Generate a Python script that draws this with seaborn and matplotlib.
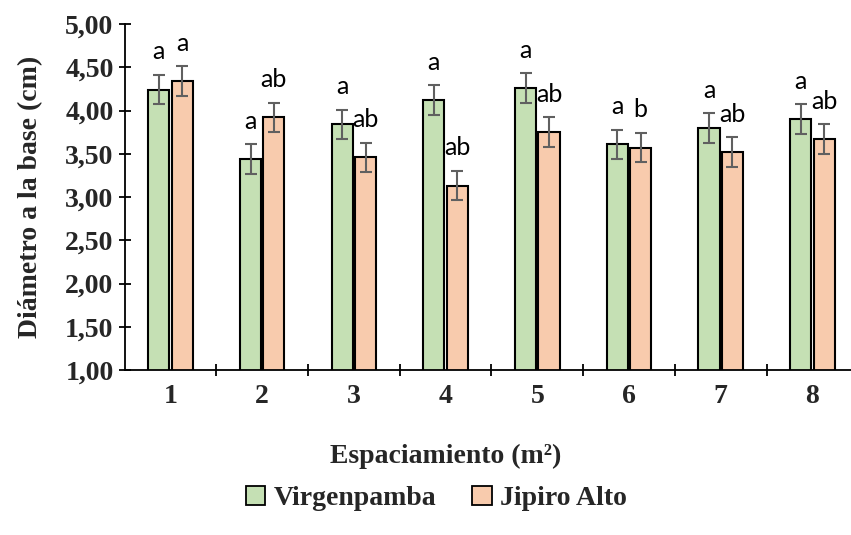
import pandas as pd
import numpy as np
import matplotlib
matplotlib.use('Agg')
import matplotlib.pyplot as plt
import seaborn as sns
from matplotlib.ticker import FuncFormatter, FixedLocator

# Datos
espaciamiento = ['1', '2', '3', '4', '5', '6', '7', '8']
virgenpamba = [4.24, 3.44, 3.84, 4.12, 4.26, 3.61, 3.80, 3.90]
jipiro_alto = [4.34, 3.92, 3.46, 3.13, 3.75, 3.57, 3.52, 3.67]
err_virgenpamba = [0.17, 0.17, 0.17, 0.17, 0.17, 0.17, 0.17, 0.17]
err_jipiro_alto = [0.17, 0.17, 0.17, 0.17, 0.17, 0.17, 0.17, 0.17]
letras_virgenpamba = ['a', 'a', 'a', 'a', 'a', 'a', 'a', 'a']
letras_jipiro_alto = ['a', 'ab', 'ab', 'ab', 'ab', 'b', 'ab', 'ab']
sitios = ['Virgenpamba', 'Jipiro Alto']

df = pd.DataFrame({
    'Espaciamiento': espaciamiento * 2,
    'Sitio': [sitios[0]] * 8 + [sitios[1]] * 8,
    'Diametro': virgenpamba + jipiro_alto,
    'Error': err_virgenpamba + err_jipiro_alto,
    'Letra': letras_virgenpamba + letras_jipiro_alto,
})

sns.set_theme(style='white')
plt.rcParams['font.family'] = ['Liberation Serif', 'DejaVu Serif']

fig = plt.figure(figsize=(8.51, 5.35), dpi=100)
ax = fig.add_axes([0.1465, 0.3084, 0.862, 0.6467])

colores = {'Virgenpamba': '#C5E0B4', 'Jipiro Alto': '#F8CBAD'}
sns.barplot(data=df, x='Espaciamiento', y='Diametro', hue='Sitio',
            palette=colores, saturation=1, width=0.51, gap=0.1,
            edgecolor='black', linewidth=1.5, errorbar=None, ax=ax)

# Barras de error y letras de significancia sobre cada barra
for cont, sitio in zip(ax.containers, sitios):
    sub = df[df['Sitio'] == sitio].reset_index(drop=True)
    for bar, (_, fila) in zip(cont, sub.iterrows()):
        xc = bar.get_x() + bar.get_width() / 2
        h = bar.get_y() + bar.get_height()
        ax.errorbar(xc, h, yerr=fila['Error'], color='#606060', lw=1.5,
                    capsize=4, capthick=1.5, zorder=5)
        ax.text(xc, h + fila['Error'] + 0.18, fila['Letra'],
                ha='center', va='baseline', fontsize=18,
                family=['Lato', 'DejaVu Sans'], color='black')

ax.set_ylim(1, 5)
ax.set_xlim(-0.5, 7.5)
ax.set_yticks(np.arange(1, 5.01, 0.5))
ax.yaxis.set_major_formatter(FuncFormatter(lambda v, p: f'{v:.2f}'.replace('.', ',')))

for s in ['top', 'right']:
    ax.spines[s].set_visible(False)
for s in ['left', 'bottom']:
    ax.spines[s].set_color('black')
    ax.spines[s].set_linewidth(1.3)

ax.tick_params(axis='y', direction='inout', length=8, width=1.3, color='black',
               labelsize=20, pad=4, left=True)
ax.tick_params(axis='x', which='major', length=0, labelsize=20, pad=10)
ax.xaxis.set_minor_locator(FixedLocator(np.arange(0.5, 7, 1.0)))
ax.tick_params(axis='x', which='minor', direction='inout', length=9, width=1.3,
               color='black', bottom=True)
for lab in ax.get_xticklabels() + ax.get_yticklabels():
    lab.set_fontweight('bold')

ax.set_xlabel('Espaciamiento (m²)', fontsize=20, fontweight='bold')
ax.set_ylabel('Diámetro a la base (cm)', fontsize=20, fontweight='bold')
ax.xaxis.set_label_coords(0.438, -0.212)
ax.yaxis.set_label_coords(-0.111, 0.5)

handles, labels = ax.get_legend_handles_labels()
ax.get_legend().remove()
for hd in handles:
    hd.set_edgecolor('black')
    hd.set_linewidth(1.3)
fig.legend(handles, labels, loc='center', bbox_to_anchor=(0.513, 0.068),
           ncol=2, frameon=False, handlelength=0.7, handleheight=0.7,
           handletextpad=0.3, columnspacing=1.3,
           prop={'family': 'Liberation Serif', 'weight': 'bold', 'size': 20})

plt.savefig('out.png', dpi=100)
plt.close()
